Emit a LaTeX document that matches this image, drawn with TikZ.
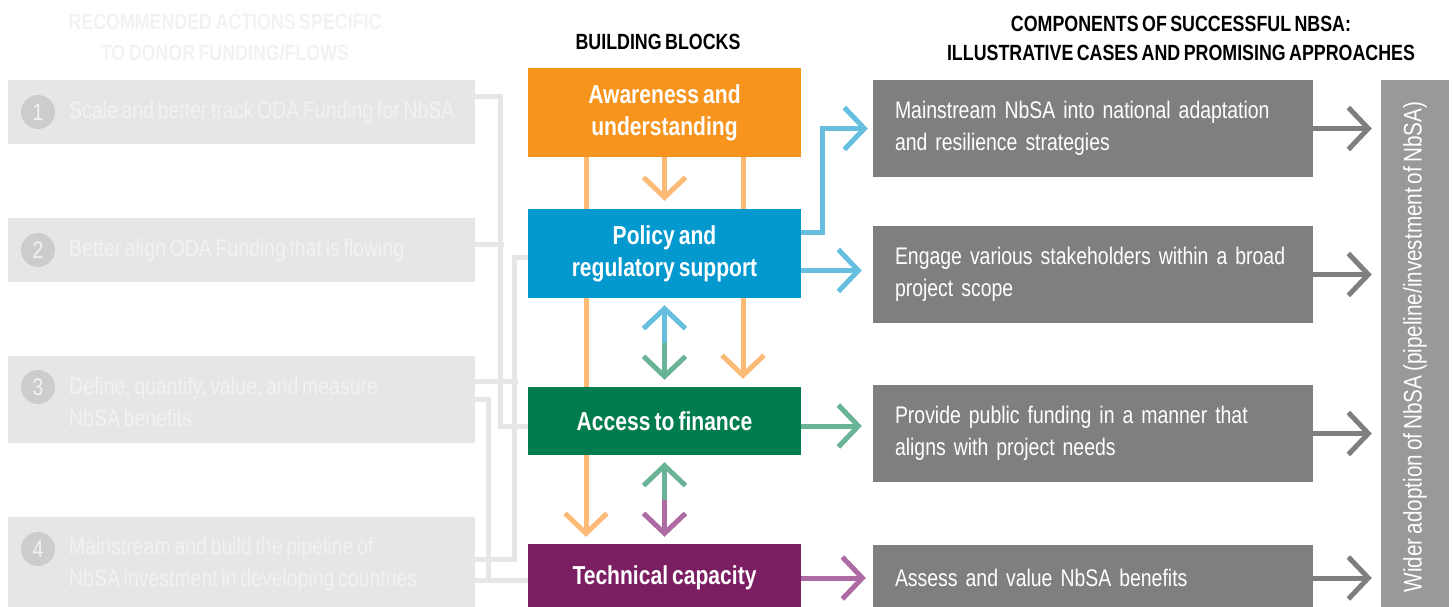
\documentclass[tikz,border=0pt]{standalone}
\usepackage{fontspec}
\setmainfont{Liberation Sans}[FakeStretch=0.81,WordSpace=0.7]
\usetikzlibrary{arrows.meta,calc}
\definecolor{aware}{HTML}{F7941D}
\definecolor{policy}{HTML}{0399CE}
\definecolor{finance}{HTML}{007C4E}
\definecolor{techcap}{HTML}{7B1F62}
\definecolor{lorange}{HTML}{FBBB77}
\definecolor{lblue}{HTML}{66BFDF}
\definecolor{lgreen}{HTML}{69B396}
\definecolor{lpurple}{HTML}{AE6AA3}
\definecolor{panel}{HTML}{E6E6E6}
\definecolor{faint}{HTML}{F2F2F2}
\definecolor{numdisc}{HTML}{CCCCCC}
\definecolor{case}{HTML}{7F7F7F}
\definecolor{bar}{HTML}{999999}
\pgfdeclarelayer{back}
\pgfsetlayers{back,main}
\tikzset{
  head/.style={align=center, inner sep=0pt, font=\fontsize{22}{29}\selectfont\bfseries},
  headfaint/.style={head, text=faint, font=\fontsize{22}{31}\selectfont\bfseries},
  action/.style={fill=panel, minimum width=467pt, inner sep=0pt},
  num/.style={circle, fill=numdisc, minimum size=34pt, inner sep=0pt, text=faint, font=\fontsize{24}{24}\selectfont},
  actiontext/.style={anchor=west, align=left, inner sep=0pt, text=faint, font=\fontsize{24}{32}\selectfont},
  block/.style={minimum width=273pt, inner sep=0pt, align=center, text=white, font=\fontsize{26}{32}\selectfont\bfseries},
  casebox/.style={fill=case, minimum width=440pt, text width=396pt, inner xsep=22pt, inner ysep=0pt, align=left, text=white, font=\fontsize{24}{32}\selectfont},
  widerbar/.style={fill=bar, rotate=90, minimum width=534pt, minimum height=68pt, inner sep=0pt, text=white, font=\fontsize{25.5}{32}\selectfont},
  feed/.style={draw=panel, line width=5pt},
  flow/.style={line width=5pt, -{Straight Barb[length=20pt,width=42pt]}},
  oline/.style={flow, draw=lorange},
  bline/.style={flow, draw=lblue},
  gline/.style={flow, draw=lgreen},
  pline/.style={flow, draw=lpurple},
  cline/.style={flow, draw=case}
}
\begin{document}
\begin{tikzpicture}[x=1pt,y=-1pt]
  \useasboundingbox (0,0) rectangle (1452,607);
  \clip (0,0) rectangle (1452,607);

  % headings
  \node[headfaint] (lhead) at (225,38) {RECOMMENDED ACTIONS SPECIFIC\\TO DONOR FUNDING/FLOWS};
  \node[head] (mhead) at (658,42) {BUILDING BLOCKS};
  \node[head] (rhead) at (1181,38) {COMPONENTS OF SUCCESSFUL NBSA:\\ILLUSTRATIVE CASES AND PROMISING APPROACHES};

  % recommended actions
  \node[action, minimum height=64pt] (l1) at (241.5,112) {};
  \node[action, minimum height=64pt] (l2) at (241.5,250) {};
  \node[action, minimum height=87pt] (l3) at (241.5,399.5) {};
  \node[action, minimum height=96pt] (l4) at (241.5,565) {};
  \node[num] (n1) at (38,112) {1};
  \node[num] (n2) at (38,250) {2};
  \node[num] (n3) at (38,387) {3};
  \node[num] (n4) at (38,549) {4};
  \node[actiontext] (t1) at (69,112) {Scale and better track ODA Funding for NbSA};
  \node[actiontext] (t2) at (69,250) {Better align ODA Funding that is flowing};
  \node[actiontext] (t3) at (69,402) {Define, quantify, value, and measure\\NbSA benefits};
  \node[actiontext] (t4) at (69,564) {Mainstream and build the pipeline of\\NbSA investment in developing countries};

  % building blocks
  \node[block, fill=aware, minimum height=89pt] (aware) at (664.5,112.5) {Awareness and\\understanding};
  \node[block, fill=policy, minimum height=89pt] (policy) at (664.5,253.5) {Policy and\\regulatory support};
  \node[block, fill=finance, minimum height=68pt] (finance) at (664.5,421) {Access to finance};
  \node[block, fill=techcap, minimum height=68pt] (tech) at (664.5,578) {Technical capacity};

  % cases and approaches
  \node[casebox, minimum height=97pt] (r1) at (1093,128.5) {Mainstream NbSA into national adaptation\\and resilience strategies};
  \node[casebox, minimum height=97pt] (r2) at (1093,274.5) {Engage various stakeholders within a broad\\project scope};
  \node[casebox, minimum height=97pt] (r3) at (1093,433.5) {Provide public funding in a manner that\\aligns with project needs};
  \node[casebox, minimum height=66pt] (r4) at (1093,578) {Assess and value NbSA benefits};
  \node[widerbar] (wider) at (1415,347) {Wider adoption of NbSA (pipeline/investment of NbSA)};

  \begin{pgfonlayer}{back}
    % actions to building blocks
    \draw[feed] ([yshift=15pt]l1.east) -| ([xshift=-27pt,yshift=-5pt]finance.west) -- ([yshift=-5pt]finance.west);
    \draw[feed] ([yshift=6pt]l2.east) -- ++(28.5,0);
    \draw[feed] ([yshift=6pt]l4.east) -| ([xshift=-13pt,yshift=-3.5pt]policy.west) -- ([yshift=-3.5pt]policy.west);
    \draw[feed] ([yshift=18pt]l3.east) -- ++(42.5,0);
    \draw[feed] ([yshift=0.5pt]l3.east) -| ([xshift=-39pt,yshift=-2.5pt]tech.west) -- ([yshift=-2.5pt]tech.west);
    \draw[feed] ([yshift=-15.5pt]l4.east) -- ([yshift=-2.5pt]tech.west);

    % awareness runs behind the other blocks
    \draw[oline] ([xshift=-78.5pt]aware.south) -- ([xshift=-78.5pt,yshift=7pt]tech.north);
    \draw[oline] ([xshift=78.5pt]aware.south) -- ([xshift=78.5pt,yshift=8pt]finance.north);
  \end{pgfonlayer}

  % between the blocks
  \draw[oline] (aware.south) -- ([yshift=8pt]policy.north);
  \coordinate (m1) at ($(policy.south)!0.5!(finance.north)$);
  \draw[bline] (m1) -- ([yshift=-7pt]policy.south);
  \draw[gline] (m1) -- ([yshift=7pt]finance.north);
  \coordinate (m2) at ($(finance.south)!0.5!(tech.north)$);
  \draw[gline] (m2) -- ([yshift=-7pt]finance.south);
  \draw[pline] (m2) -- ([yshift=7pt]tech.north);

  % blocks to cases
  \coordinate (p1) at ($(policy.east)+(0,-21.5)$);
  \coordinate (p2) at ($(policy.east)+(0,17)$);
  \coordinate (f1) at ($(finance.east)+(0,5)$);
  \draw[bline, shorten >=5pt] (p1) -- ++(21,0) |- (r1.west);
  \draw[bline, shorten >=11pt] (p2) -- (p2 -| r2.west);
  \draw[gline, shorten >=11pt] (f1) -- (f1 -| r3.west);
  \draw[pline, shorten >=7pt] (tech.east) -- (tech.east -| r4.west);

  % cases to wider adoption
  \draw[cline, shorten >=9pt] (r1.east) -- (r1.east -| wider.north);
  \draw[cline, shorten >=9pt] (r2.east) -- (r2.east -| wider.north);
  \draw[cline, shorten >=9pt] (r3.east) -- (r3.east -| wider.north);
  \draw[cline, shorten >=9pt] (r4.east) -- (r4.east -| wider.north);
\end{tikzpicture}
\end{document}
